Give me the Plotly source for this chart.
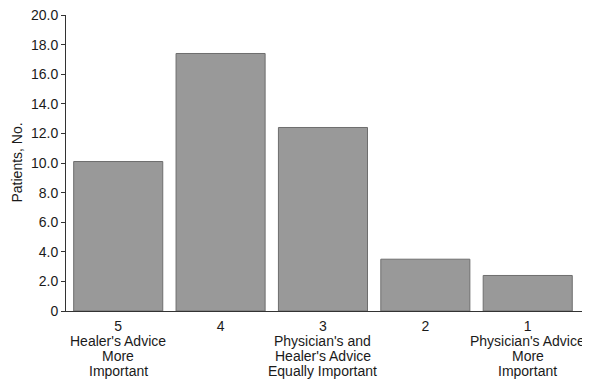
import plotly.graph_objects as go

categories = ["5", "4", "3", "2", "1"]
patients = [10.1, 17.4, 12.4, 3.5, 2.4]
descriptions = [
    ["Healer's Advice", "More", "Important"],
    [],
    ["Physician's and", "Healer's Advice", "Equally Important"],
    [],
    ["Physician's Advice", "More", "Important"],
]
y_tickvals = [0, 2, 4, 6, 8, 10, 12, 14, 16, 18, 20]
y_ticktext = ["0", "2.0", "4.0", "6.0", "8.0", "10.0", "12.0", "14.0", "16.0", "18.0", "20.0"]
y_title = "Patients, No."

FONT = "Liberation Sans, Arial, sans-serif"
FS = 14
TXT = "#1a1a1a"

fig = go.Figure()
fig.add_trace(go.Bar(
    x=categories, y=patients,
    marker=dict(color="#999999", line=dict(color="#6e6e6e", width=1)),
    width=0.87,
))

annotations = []
line_offsets = [29.5, 44.5, 59.5]
for idx, lines in enumerate(descriptions):
    for i, txt in enumerate(lines):
        annotations.append(dict(
            x=idx, y=0, xref="x", yref="y", text=txt, showarrow=False,
            yanchor="middle", xanchor="center", yshift=-line_offsets[i],
            font=dict(family=FONT, size=FS, color=TXT),
        ))
annotations.append(dict(
    x=0, y=0.5, xref="paper", yref="paper", text=y_title, showarrow=False,
    textangle=-90, xanchor="center", yanchor="middle", xshift=-49.5,
    font=dict(family=FONT, size=FS, color=TXT),
))

fig.update_layout(
    width=582, height=380,
    margin=dict(l=58, r=7, t=7, b=77),
    paper_bgcolor="white", plot_bgcolor="white",
    showlegend=False,
    font=dict(family=FONT, size=FS, color=TXT),
    annotations=annotations,
    xaxis=dict(
        type="category", range=[-0.51, 4.54], automargin=False,
        showline=True, linecolor="#333333", linewidth=1,
        ticks="", showgrid=False, zeroline=False, ticklabelstandoff=2,
        tickfont=dict(family=FONT, size=FS, color=TXT),
    ),
    yaxis=dict(
        range=[0, 20.001], tickvals=y_tickvals, ticktext=y_ticktext, automargin=False,
        showline=True, linecolor="#333333", linewidth=1,
        ticks="outside", ticklen=4, tickcolor="#333333",
        showgrid=False, zeroline=False, ticklabeloverflow="allow",
        tickfont=dict(family=FONT, size=FS, color=TXT),
    ),
)

fig.write_html("out.html")
